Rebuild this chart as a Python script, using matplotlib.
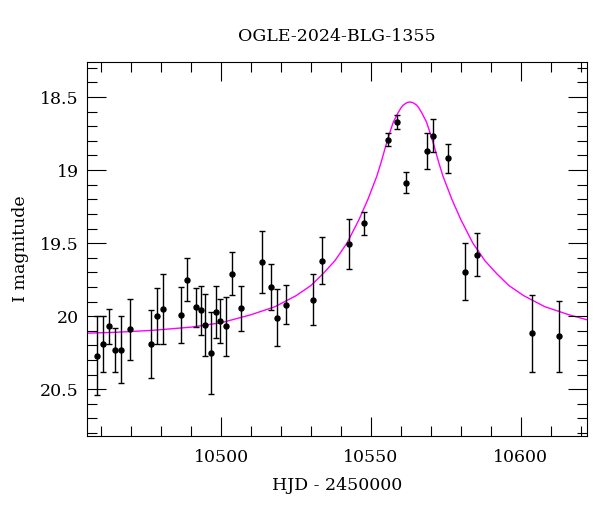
import matplotlib
matplotlib.use("Agg")
import matplotlib.pyplot as plt
from matplotlib.ticker import MultipleLocator, FormatStrFormatter

# OGLE photometry (HJD - 2450000, I mag, error)
hjd = [10458.6, 10460.6, 10462.8, 10464.7, 10466.8, 10469.8, 10476.8, 10478.7,
       10480.7, 10486.6, 10488.8, 10491.5, 10493.4, 10494.8, 10496.7, 10498.4,
       10499.8, 10501.8, 10503.6, 10506.5, 10513.6, 10516.7, 10518.7, 10521.7,
       10530.6, 10533.7, 10542.7, 10547.7, 10555.6, 10558.7, 10561.7, 10568.6,
       10570.7, 10575.6, 10581.5, 10585.5, 10603.6, 10612.6]
mag = [20.27, 20.19, 20.07, 20.23, 20.23, 20.09, 20.19, 20.00,
       19.95, 19.99, 19.75, 19.94, 19.96, 20.06, 20.25, 19.97,
       20.03, 20.07, 19.71, 19.945, 19.63, 19.80, 20.01, 19.92,
       19.886, 19.62, 19.507, 19.365, 18.791, 18.670, 19.087, 18.869,
       18.764, 18.92, 19.695, 19.578, 20.117, 20.138]
err = [0.27, 0.19, 0.12, 0.15, 0.23, 0.21, 0.23, 0.19,
       0.24, 0.19, 0.145, 0.134, 0.166, 0.21, 0.28, 0.18,
       0.15, 0.20, 0.147, 0.154, 0.21, 0.157, 0.196, 0.133,
       0.177, 0.163, 0.169, 0.081, 0.046, 0.048, 0.073, 0.125,
       0.112, 0.10, 0.193, 0.145, 0.263, 0.243]

# model curve
model_hjd = [10454, 10465, 10477, 10490, 10500, 10510, 10518, 10525, 10530, 10534,
             10538, 10542, 10546, 10549, 10552, 10553.5, 10555, 10556.5, 10557.5, 10559,
             10560, 10560.8, 10561.5, 10562.2, 10563, 10563.8, 10564.5, 10565.2, 10566,
             10567, 10568.5, 10569.5, 10571, 10572.5, 10574, 10577, 10580, 10584,
             10588, 10592, 10596, 10601, 10608, 10616, 10623]
model_mag = [20.117, 20.11, 20.097, 20.075, 20.045, 19.99, 19.935, 19.86, 19.79, 19.71,
             19.62, 19.50, 19.34, 19.20, 19.04, 18.94, 18.83, 18.73, 18.67, 18.61,
             18.575, 18.555, 18.545, 18.537, 18.534, 18.537, 18.545, 18.555, 18.575,
             18.61, 18.67, 18.73, 18.83, 18.94, 19.04, 19.20, 19.34, 19.50,
             19.62, 19.71, 19.79, 19.86, 19.935, 19.99, 20.03]

plt.rcParams['font.family'] = ['DejaVu Serif']
plt.rcParams['font.size'] = 12.5

fig = plt.figure(figsize=(6, 5.12), dpi=100)
ax = fig.add_axes([0.145, 0.1484, 0.833, 0.7306])

ax.plot(model_hjd, model_mag, color='#ff00ff', lw=1.0, zorder=1)
ax.errorbar(hjd, mag, yerr=err, fmt='o', color='black', ms=3.6, elinewidth=1.0,
            capsize=2.5, capthick=1.0, zorder=2)

ax.set_xlim(10455.3, 10622)
ax.set_ylim(20.82, 18.26)

ax.xaxis.set_major_locator(MultipleLocator(50))
ax.xaxis.set_minor_locator(MultipleLocator(10))
ax.yaxis.set_major_locator(MultipleLocator(0.5))
ax.yaxis.set_minor_locator(MultipleLocator(0.1))
ax.yaxis.set_major_formatter(FormatStrFormatter('%g'))

ax.tick_params(which='both', direction='in', top=True, right=True, width=0.8, color='black')
ax.tick_params(which='major', length=13.5)
ax.tick_params(which='minor', length=7)
ax.tick_params(axis='x', which='major', pad=9)
ax.tick_params(axis='y', which='major', pad=6)
for s in ax.spines.values():
    s.set_linewidth(0.8)

ax.set_title("OGLE-2024-BLG-1355", fontsize=12.5, pad=15)
ax.set_xlabel("HJD - 2450000", fontsize=12.5, labelpad=8)
ax.set_ylabel("I magnitude", fontsize=12.5, labelpad=8)

plt.savefig("out.png", dpi=100)
